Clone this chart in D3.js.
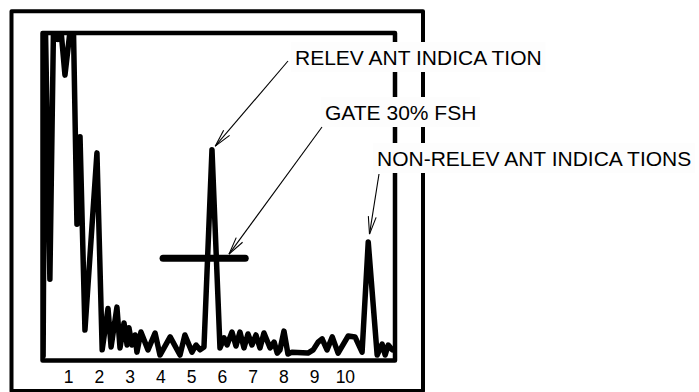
<!DOCTYPE html>
<html>
<head>
<meta charset="utf-8">
<script src="https://cdn.jsdelivr.net/npm/d3@7"></script>
<style>
  body { margin: 0; background: #fff; }
  text { font-family: "Liberation Sans", Arial, sans-serif; }
</style>
</head>
<body>
<script>
// screen position (divisions) of each point of the A-scan trace
const traceX = [0.19, 0.25, 0.41, 0.54, 0.67, 0.77, 0.90, 1.07, 1.16, 1.29, 1.39, 1.55, 1.94, 2.11,
  2.30, 2.40, 2.59, 2.69, 2.82, 2.92, 2.98, 3.08, 3.18, 3.24, 3.37, 3.60, 3.83, 3.99, 4.32, 4.64,
  4.80, 5.03, 5.16, 5.29, 5.42, 5.68, 5.94, 6.07, 6.17, 6.33, 6.46, 6.59, 6.72, 6.85, 6.98, 7.11,
  7.24, 7.37, 7.57, 7.70, 7.80, 7.89, 8.02, 8.15, 8.28, 8.80, 8.97, 9.13, 9.26, 9.42, 9.59, 9.78,
  10.11, 10.33, 10.56, 10.76, 11.05, 11.21, 11.31, 11.41, 11.54]
// amplitude in % FSH (values over 100 are clipped by the screen)
const traceAmp = [0.3, 110, 24, 110, 98, 101, 87, 101, 110, 41, 68, 8.3, 63, 2.2,
  15, 3.1, 15.4, 2.8, 10.5, 3.7, 9, 3.7, 6.8, 1.5, 7.7, 2.2, 7.4, 0.6, 6.2, 0.6,
  6.8, 1.5, 3.7, 2.2, 3.1, 64, 2.8, 5.9, 3.7, 7.7, 3.4, 7.7, 2.8, 7.1, 3.7, 6.8,
  2.8, 7.4, 2.8, 4.6, 1.2, 2.2, 8, 0.9, 1.5, 1.2, 2.2, 4.6, 5.6, 2.2, 6.2, 1.2,
  6.5, 6.2, 1.5, 35.5, 0.6, 4, 0.6, 3.7, 2.2]

// gate: start, end (divisions) and level (% FSH)
const gateStart = 4.09
const gateEnd = 6.76
const gateLevel = 30

const tickLabels = [1, 2, 3, 4, 5, 6, 7, 8, 9, 10]

// annotation texts and the point (divisions, % FSH) each arrow points to
const noteTexts = ['RELEV ANT INDICA TION', 'GATE 30% FSH', 'NON-RELEV ANT INDICA TIONS']
const noteTargetX = [5.68, 6.1, 10.76]
const noteTargetAmp = [63.9, 30, 35.5]

const W = 699, H = 392
const svg = d3.select('body').append('svg').attr('width', W).attr('height', H)

// screen area
const plot = {l: 42.5, r: 395, t: 33, b: 360.5}

const x = d3.scaleLinear().domain([0.17, 11.63]).range([plot.l, plot.r])
const y = d3.scaleLinear().domain([0, 100]).range([357, 33])

// outer frame
svg.append('rect')
  .attr('x', 11.5).attr('y', 11.3)
  .attr('width', 423 - 11.5).attr('height', 391 - 11.3)
  .attr('fill', 'none').attr('stroke', '#000').attr('stroke-width', 4)
  .attr('stroke-linejoin', 'round')

// screen frame
svg.append('rect')
  .attr('x', plot.l).attr('y', plot.t)
  .attr('width', plot.r - plot.l).attr('height', plot.b - plot.t)
  .attr('fill', 'none').attr('stroke', '#000').attr('stroke-width', 4.5)
  .attr('stroke-linejoin', 'round')

svg.append('clipPath').attr('id', 'screen')
  .append('rect')
  .attr('x', plot.l).attr('y', plot.t)
  .attr('width', plot.r - plot.l).attr('height', plot.b - plot.t)

// the trace
const traceData = traceX.map((d, i) => ({x: d, a: traceAmp[i]}))
const line = d3.line().x(d => x(d.x)).y(d => y(d.a))

svg.append('path')
  .datum(traceData)
  .attr('clip-path', 'url(#screen)')
  .attr('d', line)
  .attr('fill', 'none')
  .attr('stroke', '#000')
  .attr('stroke-width', 5.5)
  .attr('stroke-linejoin', 'round')
  .attr('stroke-linecap', 'round')

// gate bar
svg.append('line')
  .attr('x1', x(gateStart)).attr('x2', x(gateEnd))
  .attr('y1', y(gateLevel) - 1.5).attr('y2', y(gateLevel) - 1.5)
  .attr('stroke', '#000').attr('stroke-width', 7)
  .attr('stroke-linecap', 'round')

// tick labels under the screen
const xAxis = svg.append('g')
  .attr('transform', `translate(0, ${plot.b + 5})`)
  .call(d3.axisBottom(x).tickValues(tickLabels).tickSize(0).tickPadding(0))
xAxis.select('.domain').remove()
xAxis.selectAll('text')
  .attr('font-family', '"Liberation Sans", Arial, sans-serif')
  .attr('font-size', 17.5)
  .attr('fill', '#000')
  .attr('dy', null)
  .attr('y', 17.5)

// annotations
const notePos = [[295, 65], [325, 120], [377, 166]]
const arrowStart = [[288, 61], [322, 127], [379, 174]]

const notes = svg.append('g')
noteTexts.forEach((t, i) => {
  const g = notes.append('g')
  const txt = g.append('text')
    .attr('x', notePos[i][0]).attr('y', notePos[i][1])
    .attr('font-size', 21)
    .attr('fill', '#000')
    .text(t)
  const bb = txt.node().getBBox()
  g.insert('rect', 'text')
    .attr('x', bb.x - 4).attr('y', bb.y - 4)
    .attr('width', bb.width + 8).attr('height', bb.height + 7)
    .attr('fill', '#fdfdfd')
})

// arrows with open heads
const tipOffset = [5, 7, 8]
noteTexts.forEach((t, i) => {
  const [sx, sy] = arrowStart[i]
  let tx = x(noteTargetX[i]), ty = y(noteTargetAmp[i])
  const ang = Math.atan2(ty - sy, tx - sx)
  tx -= Math.cos(ang) * tipOffset[i]
  ty -= Math.sin(ang) * tipOffset[i]
  const g = notes.append('g').attr('stroke', '#000').attr('stroke-width', 1.1).attr('fill', 'none')
  g.append('line').attr('x1', sx).attr('y1', sy).attr('x2', tx).attr('y2', ty)
  ;[-0.22, 0.22].forEach(da => {
    const a = ang + Math.PI + da
    g.append('line')
      .attr('x1', tx).attr('y1', ty)
      .attr('x2', tx + Math.cos(a) * 18).attr('y2', ty + Math.sin(a) * 18)
  })
})
</script>
</body>
</html>
